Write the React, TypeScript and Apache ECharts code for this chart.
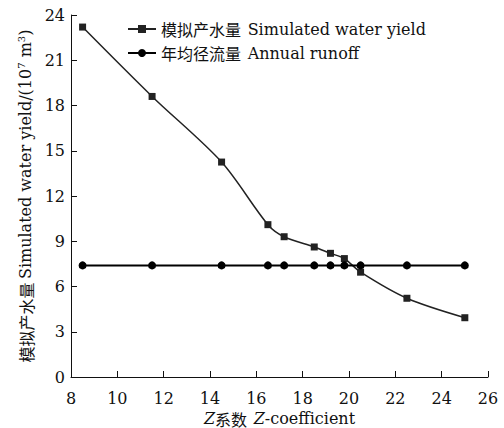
import React, { useEffect, useRef } from "react";
import * as echarts from "echarts";

const zValues = [8.5, 11.5, 14.5, 16.5, 17.2, 18.5, 19.2, 19.8, 20.5, 22.5, 25];
const simulatedYield = [23.2, 18.6, 14.25, 10.1, 9.3, 8.62, 8.2, 7.85, 6.95, 5.22, 3.93];
const annualRunoff = [7.4, 7.4, 7.4, 7.4, 7.4, 7.4, 7.4, 7.4, 7.4, 7.4, 7.4];
const seriesNames = ["模拟产水量", "年均径流量"];
const seriesEn = ["Simulated water yield", "Annual runoff"];

const serif = "DejaVu Serif";
const cjk = "Noto Sans CJK SC";

export default function App() {
  const ref = useRef<HTMLDivElement>(null);
  useEffect(() => {
    document.body.style.margin = "0";
    if (!ref.current) return;
    const chart = echarts.init(ref.current, undefined, { renderer: "svg" });
    const pair = (arr: number[]) => zValues.map((x, i) => [x, arr[i]]);
    chart.setOption({
      animation: false,
      backgroundColor: "#ffffff",
      grid: { left: 71, right: 16, top: 15, bottom: 51, outerBoundsMode: "none", containLabel: false },
      legend: {
        orient: "vertical",
        left: 122,
        top: 16,
        itemWidth: 28,
        itemHeight: 10,
        itemGap: 8,
        data: seriesNames,
        formatter: (n: string) => {
          const i = seriesNames.indexOf(n);
          return `{cn|${n}}  {en|${seriesEn[i]}}`;
        },
        textStyle: {
          color: "#111",
          rich: {
            cn: { fontFamily: cjk, fontSize: 16, color: "#111" },
            en: { fontFamily: serif, fontSize: 16, color: "#111" },
          },
        },
      },
      xAxis: {
        type: "value",
        min: 8,
        max: 26,
        interval: 2,
        name: "{it|Z}{cn|系数}  {it|Z}{en|-coefficient}",
        nameLocation: "middle",
        nameGap: 33,
        nameTextStyle: {
          rich: {
            it: { fontFamily: serif, fontStyle: "italic", fontSize: 16, color: "#111" },
            cn: { fontFamily: cjk, fontSize: 16, color: "#111" },
            en: { fontFamily: serif, fontSize: 16, color: "#111" },
          },
        },
        axisLine: { lineStyle: { color: "#111", width: 1 } },
        axisTick: { inside: true, length: 6, lineStyle: { color: "#111" } },
        axisLabel: { fontFamily: serif, fontSize: 16, color: "#111", margin: 13 },
        splitLine: { show: false },
      },
      yAxis: {
        type: "value",
        min: 0,
        max: 24,
        interval: 3,
        name: "{cn|模拟产水量} {en|Simulated water yield/(10}{sup|7}{en| m}{sup|3}{en|)}",
        nameLocation: "middle",
        nameRotate: 90,
        nameGap: 36,
        nameTextStyle: {
          rich: {
            cn: { fontFamily: cjk, fontSize: 16, color: "#111" },
            en: { fontFamily: serif, fontSize: 16, color: "#111" },
            sup: { fontFamily: serif, fontSize: 10, color: "#111", verticalAlign: "top", padding: [0, 0, 8, 0] },
          },
        },
        axisLine: { show: true, lineStyle: { color: "#111", width: 1 } },
        axisTick: { show: true, inside: true, length: 6, lineStyle: { color: "#111" } },
        axisLabel: { fontFamily: serif, fontSize: 16, color: "#111", margin: 6 },
        splitLine: { show: false },
      },
      series: [
        {
          name: seriesNames[0],
          type: "line",
          data: pair(simulatedYield),
          smooth: 0.3,
          symbol: "rect",
          symbolSize: 7,
          itemStyle: { color: "#222" },
          lineStyle: { color: "#222", width: 1.5 },
        },
        {
          name: seriesNames[1],
          type: "line",
          data: pair(annualRunoff),
          symbol: "circle",
          symbolSize: 8,
          itemStyle: { color: "#000" },
          lineStyle: { color: "#000", width: 2 },
        },
      ],
    });
    return () => chart.dispose();
  }, []);
  return <div ref={ref} style={{ width: 504, height: 428 }} />;
}
